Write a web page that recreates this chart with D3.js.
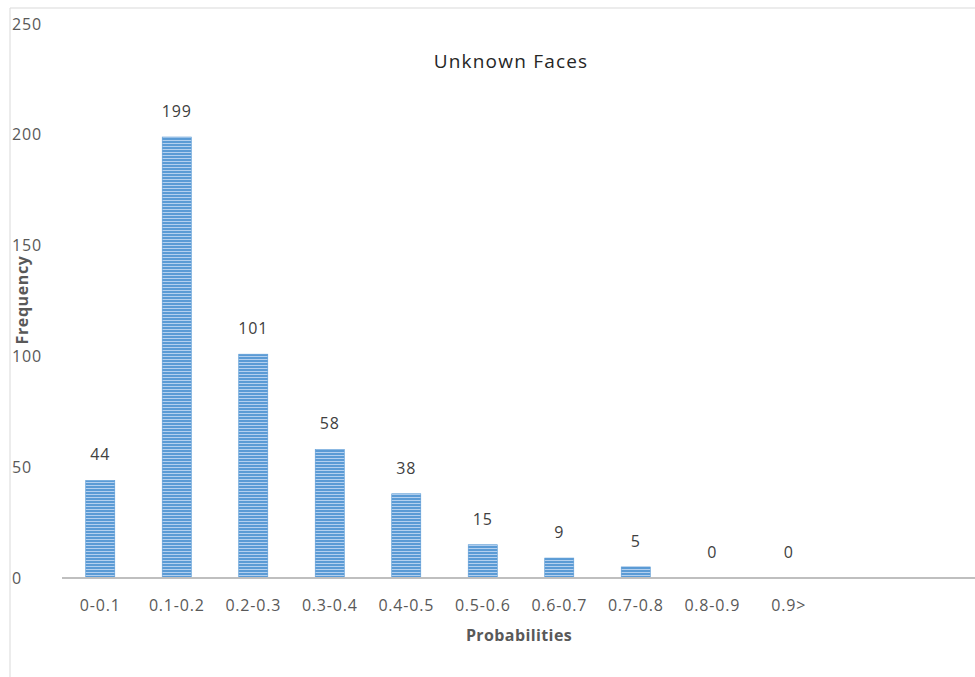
<!DOCTYPE html>
<html>
<head>
<meta charset="utf-8">
<script src="https://cdn.jsdelivr.net/npm/d3@7"></script>
<style>
  body { margin: 0; background: #fff; }
  text { font-family: "Open Sans", "Noto Sans", sans-serif; fill: #595959; }
</style>
</head>
<body>
<div id="chart"></div>
<script>
// chart values
const categories = ['0-0.1', '0.1-0.2', '0.2-0.3', '0.3-0.4', '0.4-0.5', '0.5-0.6', '0.6-0.7', '0.7-0.8', '0.8-0.9', '0.9>'];
const frequencies = [44, 199, 101, 58, 38, 15, 9, 5, 0, 0];
const yTicks = [0, 50, 100, 150, 200, 250];

const width = 975, height = 677;
const margin = { top: 24, right: 148, bottom: 99, left: 62 };

const svg = d3.select('#chart').append('svg')
  .attr('width', width)
  .attr('height', height);

// striped fill for the bars
const pattern = svg.append('defs').append('pattern')
  .attr('id', 'stripes')
  .attr('patternUnits', 'userSpaceOnUse')
  .attr('width', 8)
  .attr('height', 3);
pattern.append('rect').attr('width', 8).attr('height', 3).attr('fill', '#5b9bd5');
pattern.append('rect').attr('y', 2).attr('width', 8).attr('height', 1).attr('fill', '#b4d0ef');

// outer frame
svg.append('line').attr('x1', 10).attr('x2', 10).attr('y1', 8).attr('y2', height)
  .attr('stroke', '#d9d9d9');
svg.append('line').attr('x1', 10).attr('x2', width).attr('y1', 8).attr('y2', 8)
  .attr('stroke', '#d9d9d9');

const x = d3.scaleBand()
  .domain(categories)
  .range([margin.left, width - margin.right])
  .paddingInner(0.62)
  .paddingOuter(0.31);

const y = d3.scaleLinear()
  .domain([0, 250])
  .range([height - margin.bottom, margin.top]);

// y tick labels (no gridlines)
svg.append('g').selectAll('text')
  .data(yTicks)
  .join('text')
  .attr('x', 12)
  .attr('y', d => y(d))
  .attr('dy', '0.35em')
  .attr('font-size', 16)
  .attr('letter-spacing', 0.8)
  .text(d => d);

// bars
svg.append('g').selectAll('rect')
  .data(frequencies)
  .join('rect')
  .attr('x', (d, i) => x(categories[i]))
  .attr('y', d => y(d))
  .attr('width', x.bandwidth())
  .attr('height', d => y(0) - y(d))
  .attr('fill', 'url(#stripes)')
  .attr('stroke', '#5b9bd5')
  .attr('stroke-width', 0.6);

// value labels
svg.append('g').selectAll('text')
  .data(frequencies)
  .join('text')
  .attr('x', (d, i) => x(categories[i]) + x.bandwidth() / 2)
  .attr('y', d => y(d) - 20)
  .attr('text-anchor', 'middle')
  .attr('font-size', 16)
  .attr('letter-spacing', 0.8)
  .style('fill', '#404040')
  .text(d => d);

// baseline
svg.append('line')
  .attr('x1', margin.left).attr('x2', width)
  .attr('y1', y(0)).attr('y2', y(0))
  .attr('stroke', '#bfbfbf')
  .attr('stroke-width', 2);

// x category labels
svg.append('g').selectAll('text')
  .data(categories)
  .join('text')
  .attr('x', d => x(d) + x.bandwidth() / 2)
  .attr('y', y(0) + 33)
  .attr('text-anchor', 'middle')
  .attr('font-size', 16)
  .attr('letter-spacing', 0.8)
  .text(d => d);

// title
svg.append('text')
  .attr('x', 511)
  .attr('y', 68)
  .attr('text-anchor', 'middle')
  .attr('font-size', 19)
  .attr('letter-spacing', 1.2)
  .style('fill', '#262626')
  .text('Unknown Faces');

// axis titles
svg.append('text')
  .attr('x', 519)
  .attr('y', 641)
  .attr('text-anchor', 'middle')
  .attr('font-size', 16)
  .attr('letter-spacing', 0.4)
  .attr('font-weight', 'bold')
  .text('Probabilities');

svg.append('text')
  .attr('transform', 'translate(28,300) rotate(-90)')
  .attr('text-anchor', 'middle')
  .attr('font-size', 16)
  .attr('letter-spacing', 0.6)
  .attr('font-weight', 'bold')
  .text('Frequency');
</script>
</body>
</html>
